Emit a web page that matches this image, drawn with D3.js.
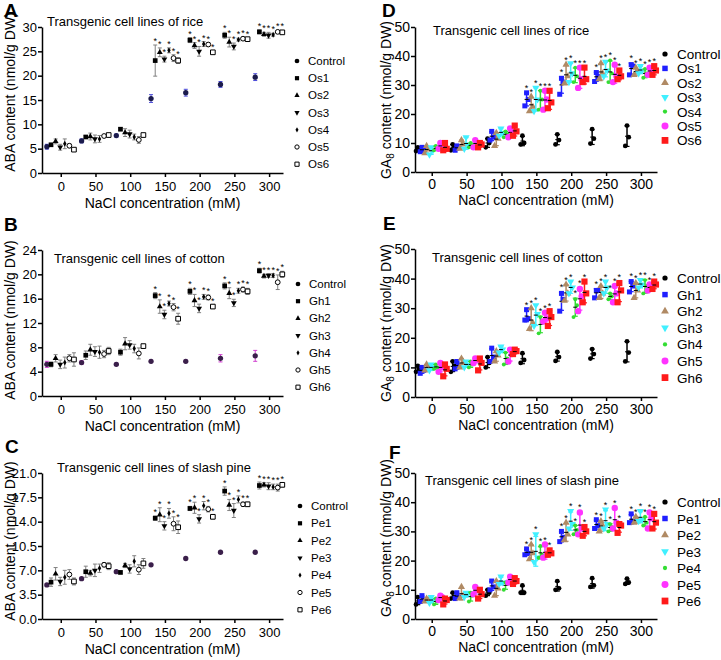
<!DOCTYPE html>
<html><head><meta charset="utf-8">
<script src="https://cdn.jsdelivr.net/npm/d3@7"></script>
<style>body{margin:0;background:#fff} svg{font-family:"Liberation Sans",Arial,Helvetica,sans-serif}</style>
</head><body><svg id="c" width="721" height="660"></svg>
<script>
// ---------- data ----------
const groups = [0, 50, 100, 150, 200, 250, 300];
const xTicks = [0, 50, 100, 150, 200, 250, 300];
const ticksA = [0, 5, 10, 15, 20, 25, 30];
const ticksB = [0, 4, 8, 12, 16, 20, 24];
const ticksC = [0, 3.5, 7, 10.5, 14, 17.5, 21];
const ticksGA = [0, 10, 20, 30, 40, 50];
const riceNames = ["Control", "Os1", "Os2", "Os3", "Os4", "Os5", "Os6"];
const cottonNames = ["Control", "Gh1", "Gh2", "Gh3", "Gh4", "Gh5", "Gh6"];
const pineNames = ["Control", "Pe1", "Pe2", "Pe3", "Pe4", "Pe5", "Pe6"];
const seriesOffset = [-20, -14, -7.4, -0.8, 5.8, 12.4, 19];
const repOffset = [-2.5, 2.5, 0];

// ABA (mean, error) — rice
const abaRiceMean = [
  [5.4, 6.6, 7.7, 15.3, 16.5, 18.2, 19.7],
  [5.8, 7.4, 9.0, 23.1, 27.3, 28.3, 29.0],
  [6.5, 7.5, 8.3, 24.8, 26.2, 26.9, 28.5],
  [5.3, 7.0, 8.0, 23.4, 25.0, 26.0, 28.3],
  [6.0, 7.0, 7.4, 25.2, 26.5, 27.4, 28.4],
  [5.6, 7.6, 6.8, 23.6, 26.4, 27.6, 29.0],
  [4.8, 7.8, 7.8, 23.1, 24.8, 27.5, 28.9]];
const abaRiceErr = [
  [0.5, 0.4, 0.3, 0.8, 0.7, 0.6, 0.7],
  [0.2, 0.3, 0.3, 3.2, 0.5, 0.6, 0.4],
  [0.5, 0.7, 0.8, 0.9, 0.6, 1.0, 0.4],
  [0.6, 0.8, 0.8, 0.6, 1.0, 0.7, 0.6],
  [1.0, 0.7, 0.6, 0.5, 0.5, 0.3, 0.3],
  [0.4, 0.3, 0.7, 0.7, 0.4, 0.3, 0.3],
  [0.3, 0.3, 0.3, 0.6, 0.3, 0.3, 0.4]];
// ABA — cotton
const abaCottonMean = [
  [5.2, 5.5, 5.2, 5.7, 5.7, 6.2, 6.6],
  [5.2, 6.7, 7.2, 16.5, 17.2, 18.1, 20.6],
  [6.2, 7.6, 8.6, 14.7, 15.7, 16.9, 19.7],
  [5.2, 7.3, 8.4, 13.4, 14.4, 15.3, 19.8],
  [5.5, 7.2, 7.8, 15.2, 16.3, 17.3, 19.8],
  [6.2, 6.9, 7.0, 14.6, 16.2, 17.5, 18.7],
  [6.0, 7.4, 8.2, 12.7, 14.7, 17.2, 20.0]];
const abaCottonErr = [
  [0.5, 0.3, 0.2, 0.2, 0.2, 0.6, 0.9],
  [0.4, 0.7, 0.5, 0.5, 0.5, 0.5, 0.4],
  [0.6, 0.9, 1.0, 1.1, 1.0, 0.9, 0.3],
  [0.7, 0.8, 0.7, 0.7, 0.7, 0.6, 0.3],
  [0.9, 1.0, 0.7, 0.4, 0.4, 0.4, 0.3],
  [0.6, 0.6, 0.9, 0.6, 0.4, 0.4, 1.2],
  [1.1, 0.6, 0.3, 0.9, 0.3, 0.5, 0.5]];
// ABA — slash pine
const abaPineMean = [
  [4.9, 5.8, 6.8, 7.8, 8.7, 9.6, 9.6],
  [5.3, 6.8, 6.7, 14.5, 15.9, 18.4, 19.2],
  [6.5, 6.6, 7.7, 15.0, 16.0, 16.4, 19.3],
  [5.4, 7.0, 7.2, 13.4, 14.4, 15.6, 19.1],
  [6.0, 7.3, 8.3, 15.2, 16.3, 17.2, 19.0],
  [6.4, 7.8, 7.1, 13.7, 15.8, 16.5, 18.9],
  [5.4, 7.6, 8.0, 13.2, 14.7, 16.5, 19.3]];
const abaPineErr = [
  [0.2, 0.2, 0.1, 0.2, 0.1, 0.1, 0.1],
  [0.6, 0.8, 0.2, 0.3, 0.3, 0.6, 0.5],
  [0.9, 0.4, 0.3, 1.0, 0.8, 0.8, 0.3],
  [0.6, 0.9, 0.6, 0.6, 0.6, 1.0, 0.5],
  [1.0, 0.6, 0.8, 0.7, 0.6, 0.5, 0.4],
  [0.7, 0.3, 0.7, 1.0, 0.4, 0.3, 0.5],
  [0.5, 0.5, 0.7, 0.9, 0.3, 0.3, 0.3]];

// GA8 replicates (3 per point) — rice
const gaRice = [
  [[7.2, 8.0, 8.5], [7.5, 8.5, 9.5], [8.5, 10.0, 11.5], [9.5, 10.0, 12.5], [9.5, 11.0, 13.0], [9.8, 11.5, 14.8], [9.0, 12.0, 16.0]],
  [[7.0, 7.5, 8.5], [7.5, 8.5, 9.0], [11.0, 12.0, 14.0], [22.8, 25.0, 27.3], [26.8, 31.0, 32.3], [31.2, 33.0, 34.3], [33.5, 36.5, 37.0]],
  [[6.5, 7.8, 9.0], [8.0, 9.5, 11.0], [9.0, 11.5, 13.5], [21.0, 22.5, 26.0], [30.5, 33.0, 37.0], [32.0, 34.0, 37.5], [33.5, 34.5, 36.0]],
  [[6.0, 7.5, 8.5], [8.0, 9.5, 12.0], [12.5, 13.5, 15.0], [21.0, 25.0, 29.0], [31.0, 34.0, 37.5], [33.0, 35.0, 38.0], [34.0, 35.0, 36.5]],
  [[7.5, 8.0, 9.0], [8.5, 9.0, 10.0], [12.0, 13.0, 14.0], [21.5, 25.0, 28.0], [31.0, 33.0, 36.0], [31.0, 34.0, 38.5], [32.5, 34.0, 35.5]],
  [[8.0, 9.0, 10.0], [8.5, 10.0, 11.0], [12.0, 14.0, 15.0], [21.5, 25.0, 28.0], [29.0, 32.0, 36.0], [31.0, 33.0, 37.0], [33.5, 35.0, 36.0]],
  [[7.5, 8.0, 10.0], [8.5, 9.5, 10.0], [12.5, 14.0, 16.0], [22.0, 24.0, 28.0], [31.0, 32.0, 36.0], [32.0, 33.0, 35.0], [33.5, 35.0, 36.5]]];
// GA8 — cotton
const gaCotton = [
  [[8.5, 9.5, 10.5], [8.5, 10.5, 12.0], [10.0, 11.5, 13.5], [11.5, 12.5, 14.8], [12.2, 13.5, 15.2], [13.0, 14.5, 16.2], [12.0, 15.0, 18.8]],
  [[8.0, 9.0, 10.0], [9.5, 10.5, 12.0], [12.0, 13.5, 16.5], [26.0, 26.5, 29.5], [29.0, 33.0, 35.0], [33.5, 36.0, 36.0], [35.5, 37.5, 39.0]],
  [[9.0, 10.0, 11.0], [10.0, 11.5, 13.0], [12.0, 14.0, 15.5], [23.0, 25.0, 30.0], [32.5, 35.0, 38.0], [33.5, 35.0, 37.5], [33.5, 36.0, 38.5]],
  [[9.0, 10.0, 11.0], [10.0, 11.0, 12.0], [15.0, 16.0, 17.0], [24.0, 28.0, 31.0], [35.0, 37.0, 39.0], [35.0, 37.0, 39.0], [37.0, 38.0, 39.5]],
  [[9.5, 10.0, 11.0], [10.0, 11.0, 12.0], [11.0, 13.0, 15.0], [21.5, 25.0, 27.0], [27.0, 31.0, 33.0], [33.0, 34.0, 35.0], [35.0, 37.5, 39.5]],
  [[8.5, 10.0, 11.5], [11.5, 12.5, 13.0], [12.0, 14.5, 16.0], [25.5, 26.5, 28.5], [29.0, 34.0, 36.5], [32.0, 35.0, 37.5], [36.0, 37.0, 38.0]],
  [[7.0, 9.5, 11.0], [9.0, 11.5, 13.0], [14.5, 15.5, 16.0], [24.0, 27.0, 29.0], [32.0, 35.0, 39.0], [32.0, 36.0, 38.5], [36.5, 38.0, 39.0]]];
// GA8 — slash pine
const gaPine = [
  [[5.0, 6.0, 7.5], [7.0, 7.5, 9.0], [8.0, 9.0, 10.0], [9.0, 9.0, 11.5], [10.0, 10.5, 13.0], [11.0, 11.5, 14.0], [12.0, 12.5, 13.8]],
  [[6.0, 6.5, 8.0], [7.0, 7.5, 9.0], [10.0, 11.0, 13.0], [22.0, 22.5, 24.0], [26.5, 28.0, 30.0], [31.0, 32.0, 34.0], [33.0, 33.5, 36.0]],
  [[6.0, 6.5, 7.0], [7.0, 8.0, 11.0], [8.0, 10.5, 13.0], [20.5, 22.5, 25.5], [27.0, 29.0, 33.0], [30.0, 32.0, 33.5], [33.0, 33.5, 35.0]],
  [[5.5, 6.5, 7.5], [7.5, 8.5, 9.0], [12.0, 12.5, 14.5], [19.5, 21.0, 29.0], [31.0, 32.5, 37.0], [31.0, 32.5, 37.5], [33.5, 34.0, 37.0]],
  [[5.0, 6.0, 7.0], [6.0, 8.0, 9.0], [10.0, 12.0, 12.5], [21.0, 22.0, 25.0], [29.0, 30.5, 32.0], [30.0, 31.5, 32.5], [32.0, 33.0, 35.0]],
  [[6.5, 7.5, 8.0], [8.5, 10.0, 11.0], [12.5, 13.5, 14.5], [21.0, 22.0, 25.5], [29.0, 31.0, 36.5], [31.0, 33.0, 38.0], [31.0, 34.5, 36.5]],
  [[5.0, 6.5, 7.0], [7.0, 8.5, 10.0], [12.0, 13.0, 14.0], [22.0, 22.5, 23.5], [28.5, 30.0, 31.5], [29.5, 32.0, 32.5], [31.0, 33.0, 36.0]]];

// ---------- drawing ----------
const svg = d3.select("#c");
const FONT = '"Liberation Sans",Arial,sans-serif';

function sym(g, type, x, y, size, fill, stroke, rot, sw) {
  g.append("path").attr("d", d3.symbol().type(type).size(size)())
    .attr("transform", `translate(${x},${y})` + (rot ? " rotate(180)" : ""))
    .attr("fill", fill).attr("stroke", stroke || "none").attr("stroke-width", sw || 1);
}

const leftStyles = [
  {t: d3.symbolCircle, s: 22},
  {t: d3.symbolSquare, s: 22, f: "#000"},
  {t: d3.symbolTriangle, s: 15, f: "#000"},
  {t: d3.symbolTriangle, s: 15, f: "#000", r: 1},
  {t: d3.symbolDiamond, s: 10, f: "#000"},
  {t: d3.symbolCircle, s: 18, f: "#fff", st: "#000"},
  {t: d3.symbolSquare, s: 22, f: "#fff", st: "#000"}];
const rightColors = ["#000000", "#1f1fff", "#b08a64", "#40f0ff", "#33dd33", "#ff33ff", "#ff1a1a"];
const rightStyles = [
  {t: d3.symbolCircle, s: 18},
  {t: d3.symbolSquare, s: 25},
  {t: d3.symbolTriangle, s: 22},
  {t: d3.symbolTriangle, s: 22, r: 1},
  {t: d3.symbolCircle, s: 12},
  {t: d3.symbolCircle, s: 32},
  {t: d3.symbolSquare, s: 38}];

function axes(g, c, x, y, tickFont, pad) {
  const ax = g.append("g").attr("transform", `translate(0,${c.yr[0]})`)
    .call(d3.axisBottom(x).tickValues(xTicks).tickSize(4).tickSizeOuter(0).tickPadding(pad));
  const ay = g.append("g").attr("transform", `translate(${c.xr[0]},0)`)
    .call(d3.axisLeft(y).tickValues(c.yTicks).tickFormat(c.fmt).tickSize(4).tickSizeOuter(0).tickPadding(1));
  [ax, ay].forEach(a => {
    a.selectAll("path,line").attr("stroke", "#000").attr("stroke-width", 1.5);
    a.selectAll("text").attr("font-size", tickFont).attr("fill", "#000").attr("font-family", FONT);
  });
  g.append("text").attr("x", (c.xr[0] + c.xr[1]) / 2).attr("y", c.yr[0] + c.xtOff)
    .attr("text-anchor", "middle").attr("font-size", 14).text("NaCl concentration (mM)");
  const yt = g.append("text").attr("transform", `translate(${c.ytx},${c.yty}) rotate(-90)`)
    .attr("text-anchor", "middle").attr("font-size", 14);
  if (c.ga) {
    yt.append("tspan").text("GA");
    yt.append("tspan").attr("font-size", 10).attr("dy", 3).text("8");
    yt.append("tspan").attr("dy", -3).text(" content (nmol/g DW)");
  } else yt.text("ABA content (nmol/g DW)");
  g.append("text").attr("x", c.tx).attr("y", c.ty).attr("font-size", 13).text(c.title);
  g.append("text").attr("x", c.lx).attr("y", c.ly).attr("font-size", 19).attr("font-weight", "bold").text(c.label);
}

function drawLeft(c) {
  const g = svg.append("g").attr("font-family", FONT);
  const x = d3.scaleLinear().domain([-27, 320]).range(c.xr);
  const y = d3.scaleLinear().domain([0, c.yMax]).range(c.yr);
  axes(g, c, x, y, 13, 5);
  c.mean.forEach((row, s) => {
    const st = leftStyles[s];
    row.forEach((m, i) => {
      const e = c.err[s][i];
      const px = x(groups[i] + seriesOffset[s]);
      const col = s === 0 ? c.ctrlBar : "#808080";
      g.append("line").attr("x1", px).attr("x2", px).attr("y1", y(m - e)).attr("y2", y(m + e)).attr("stroke", col).attr("stroke-width", 1);
      [m - e, m + e].forEach(v => g.append("line").attr("x1", px - 2).attr("x2", px + 2).attr("y1", y(v)).attr("y2", y(v)).attr("stroke", col).attr("stroke-width", 1));
      sym(g, st.t, px, y(m), st.s, s === 0 ? c.ctrlFill : st.f, st.st, st.r);
      if (s > 0 && groups[i] >= 150)
        g.append("text").attr("x", px).attr("y", y(m + e) - 1).attr("text-anchor", "middle").attr("font-size", 9).text("*");
    });
  });
  c.names.forEach((n, s) => {
    const st = leftStyles[s];
    const yy = c.legY + s * c.legStep;
    sym(g, st.t, c.legX, yy, st.s * 0.8, s === 0 ? "#000" : st.f, st.st, st.r);
    g.append("text").attr("x", c.legX + 11).attr("y", yy + 4).attr("font-size", 11.5).text(n);
  });
}

function drawRight(c) {
  const g = svg.append("g").attr("font-family", FONT);
  const x = d3.scaleLinear().domain([-24, 323]).range(c.xr);
  const y = d3.scaleLinear().domain([0, 50]).range(c.yr);
  axes(g, c, x, y, 14, 3.5);
  c.reps.forEach((row, s) => {
    const st = rightStyles[s], col = rightColors[s];
    row.forEach((reps, i) => {
      const m = d3.mean(reps), sd = d3.deviation(reps);
      const px = x(groups[i] + seriesOffset[s]);
      g.append("line").attr("x1", px).attr("x2", px).attr("y1", y(m - sd)).attr("y2", y(m + sd)).attr("stroke", col).attr("stroke-width", 1.5);
      [m - sd, m + sd].forEach(v => g.append("line").attr("x1", px - 2.5).attr("x2", px + 2.5).attr("y1", y(v)).attr("y2", y(v)).attr("stroke", col).attr("stroke-width", 1.2));
      reps.forEach((v, k) => sym(g, st.t, x(groups[i] + seriesOffset[s] + repOffset[k]), y(v), st.s, col, null, st.r));
      g.append("line").attr("x1", px - 2).attr("x2", px + 2).attr("y1", y(m)).attr("y2", y(m)).attr("stroke", "#000").attr("stroke-width", 1);
      if (s > 0 && groups[i] >= 150)
        g.append("text").attr("x", px).attr("y", y(Math.max(d3.max(reps), m + sd)) - 2).attr("text-anchor", "middle").attr("font-size", 9).text("*");
    });
  });
  c.names.forEach((n, s) => {
    const st = rightStyles[s];
    const yy = c.legY + s * c.legStep;
    sym(g, st.t, c.legX, yy, st.s * 1.2, rightColors[s], null, st.r);
    g.append("text").attr("x", c.legX + 12).attr("y", yy + 5).attr("font-size", 13.5).text(n);
  });
}

drawLeft({label: "A", lx: 4, ly: 17, title: "Transgenic cell lines of rice", tx: 47, ty: 26,
  xr: [42, 283], yr: [173, 27], yMax: 30, yTicks: ticksA, fmt: d3.format("d"),
  names: riceNames, mean: abaRiceMean, err: abaRiceErr, ctrlFill: "#1b1b4d", ctrlBar: "#4a4ad8",
  legX: 297, legY: 61, legStep: 17.2, ytx: 15, yty: 92, xtOff: 35});
drawLeft({label: "B", lx: 4, ly: 231, title: "Transgenic cell lines of cotton", tx: 54, ty: 263,
  xr: [42, 283], yr: [396, 250], yMax: 24, yTicks: ticksB, fmt: d3.format("d"),
  names: cottonNames, mean: abaCottonMean, err: abaCottonErr, ctrlFill: "#3a1f4a", ctrlBar: "#d040d0",
  legX: 298, legY: 284, legStep: 17.2, ytx: 15, yty: 320, xtOff: 35});
drawLeft({label: "C", lx: 5, ly: 453, title: "Transgenic cell lines of slash pine", tx: 57, ty: 472,
  xr: [42, 283], yr: [619, 473], yMax: 21, yTicks: ticksC, fmt: d3.format(".1f"),
  names: pineNames, mean: abaPineMean, err: abaPineErr, ctrlFill: "#3a1f4a", ctrlBar: "#d060c0",
  legX: 300, legY: 506, legStep: 17.3, ytx: 15, yty: 541, xtOff: 35});
drawRight({label: "D", lx: 382, ly: 17, title: "Transgenic cell lines of rice", tx: 433, ty: 35,
  xr: [415, 657], yr: [172, 27], yTicks: ticksGA, fmt: d3.format("d"), ga: true,
  names: riceNames, reps: gaRice, legX: 665, legY: 54, legStep: 14.4, ytx: 391, yty: 100, xtOff: 33});
drawRight({label: "E", lx: 383, ly: 230, title: "Transgenic cell lines of cotton", tx: 432, ty: 262,
  xr: [415, 657], yr: [397, 249], yTicks: ticksGA, fmt: d3.format("d"), ga: true,
  names: cottonNames, reps: gaCotton, legX: 665, legY: 278, legStep: 16.6, ytx: 391, yty: 323, xtOff: 33});
drawRight({label: "F", lx: 389, ly: 459, title: "Transgenic cell lines of slash pine", tx: 425, ty: 485,
  xr: [415, 657], yr: [619, 473], yTicks: ticksGA, fmt: d3.format("d"), ga: true,
  names: pineNames, reps: gaPine, legX: 665, legY: 502, legStep: 16.5, ytx: 391, yty: 538, xtOff: 33});
</script>
</body></html>
